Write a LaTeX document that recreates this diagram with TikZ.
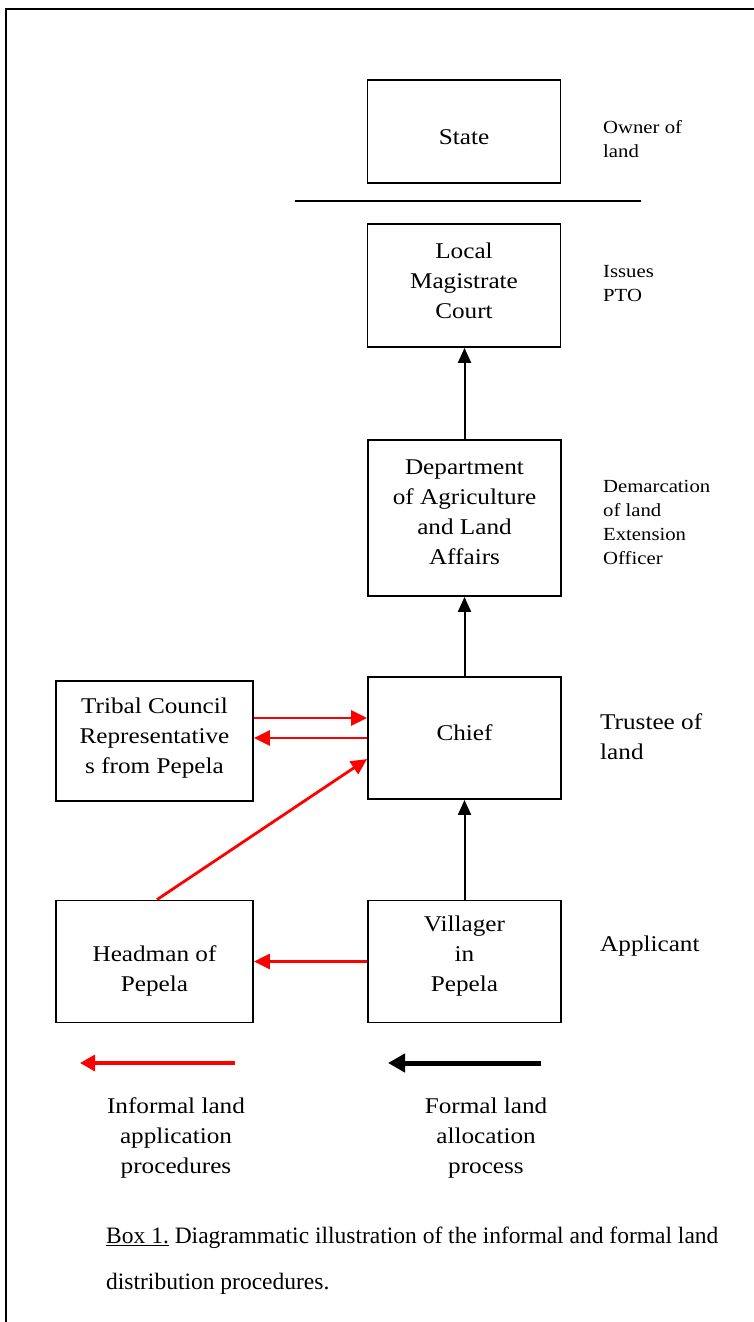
\documentclass[tikz,border=0pt]{standalone}
\usepackage{fontspec}
\setmainfont[FakeStretch=1.12]{Liberation Serif}
\newfontfamily\capfont{Liberation Serif}
\usetikzlibrary{arrows.meta}
\definecolor{arrred}{RGB}{255,0,0}
\tikzset{
  box/.style={draw=black, line width=1.8pt, rectangle, inner sep=0pt},
  boxtext/.style={inner sep=0pt, align=center, font=\fontsize{22.5}{30}\selectfont},
  sidesmall/.style={inner sep=0pt, anchor=west, align=left, font=\fontsize{18.5}{24}\selectfont},
  sidebig/.style={inner sep=0pt, anchor=west, align=left, font=\fontsize{22.5}{30}\selectfont},
  captext/.style={inner sep=0pt, anchor=base west, font=\capfont\fontsize{23.5}{30}\selectfont},
  blackarrow/.style={draw=black, line width=2pt, -{Triangle[length=15pt,width=13pt]}},
  redarrow/.style={draw=arrred, line width=2.8pt, -{Triangle[length=16pt,width=15pt]}},
  legred/.style={draw=arrred, line width=3.4pt, -{Triangle[length=15pt,width=16pt]}},
  legblack/.style={draw=black, line width=5pt, -{Triangle[length=17pt,width=18pt]}},
}
\begin{document}
\begin{tikzpicture}[x=1pt,y=-1pt]
\useasboundingbox (0,0) rectangle (754,1322);
% frame
\draw[line width=2pt] (6,1322) -- (6,9) -- (754,9);
% boxes
\node[box, minimum width=193pt, minimum height=103pt] (state) at (464,131.5) {};
\node[box, minimum width=193pt, minimum height=123pt] (court) at (464,285.5) {};
\node[box, minimum width=193pt, minimum height=156pt] (dept) at (464.5,518) {};
\node[box, minimum width=193pt, minimum height=122pt] (chief) at (464.5,738) {};
\node[box, minimum width=197pt, minimum height=120pt] (tribal) at (154.5,741) {};
\node[box, minimum width=197pt, minimum height=122pt] (headman) at (154.5,961.5) {};
\node[box, minimum width=193pt, minimum height=122pt] (villager) at (464.5,961.5) {};
% box texts
\node[boxtext] (stateT) at (464,137) {State};
\node[boxtext] (courtT) at (464,281) {Local\\Magistrate\\Court};
\node[boxtext] (deptT) at (464.5,512) {Department\\of Agriculture\\and Land\\Affairs};
\node[boxtext] (chiefT) at (464.5,733) {Chief};
\node[boxtext] (tribalT) at (154.5,738) {Tribal Council\\Representative\\s from Pepela};
\node[boxtext] (headmanT) at (154.5,971) {Headman of\\Pepela};
\node[boxtext] (villagerT) at (464.5,956) {Villager\\in\\Pepela};
% separator line
\coordinate (sepL) at (295,201);
\coordinate (sepR) at (641,201);
\draw[line width=2pt] (sepL) -- (sepR);
% side labels
\node[sidesmall] (ownerT) at (603,139) {Owner of\\land};
\node[sidesmall] (issuesT) at (603,283.5) {Issues\\PTO};
\node[sidesmall] (demT) at (603,522.5) {Demarcation\\of land\\Extension\\Officer};
\node[sidebig] (trusteeT) at (600,737) {Trustee of\\land};
\node[sidebig] (applT) at (600,946) {Applicant};
% formal arrows
\draw[blackarrow] (villager.north) -- (chief.south);
\draw[blackarrow] (chief.north) -- (dept.south);
\draw[blackarrow] (dept.north) -- (dept.north |- court.south);
% informal arrows
\coordinate (t1) at ([yshift=20pt]chief.west);
\draw[redarrow] (t1 -| tribal.east) -- (t1);
\draw[redarrow] (chief.west) -- (chief.west -| tribal.east);
\coordinate (c1) at ([yshift=-21pt]chief.west);
\draw[redarrow] ([xshift=2.5pt]headman.north) -- (c1);
\draw[redarrow] (villager.west) -- (headman.east);
% legend
\coordinate (lr1) at (235,1063);
\coordinate (lr2) at (80,1063);
\coordinate (lb1) at (541,1063);
\coordinate (lb2) at (388,1063);
\draw[legred] (lr1) -- (lr2);
\draw[legblack] (lb1) -- (lb2);
\node[boxtext] (infT) at (176,1138) {Informal land\\application\\procedures};
\node[boxtext] (forT) at (486,1138) {Formal land\\allocation\\process};
% caption
\node[captext] (cap1) at (106,1243) {\underline{Box 1.} Diagrammatic illustration of the informal and formal land};
\node[captext] (cap2) at (106,1289) {distribution procedures.};
\end{tikzpicture}
\end{document}
